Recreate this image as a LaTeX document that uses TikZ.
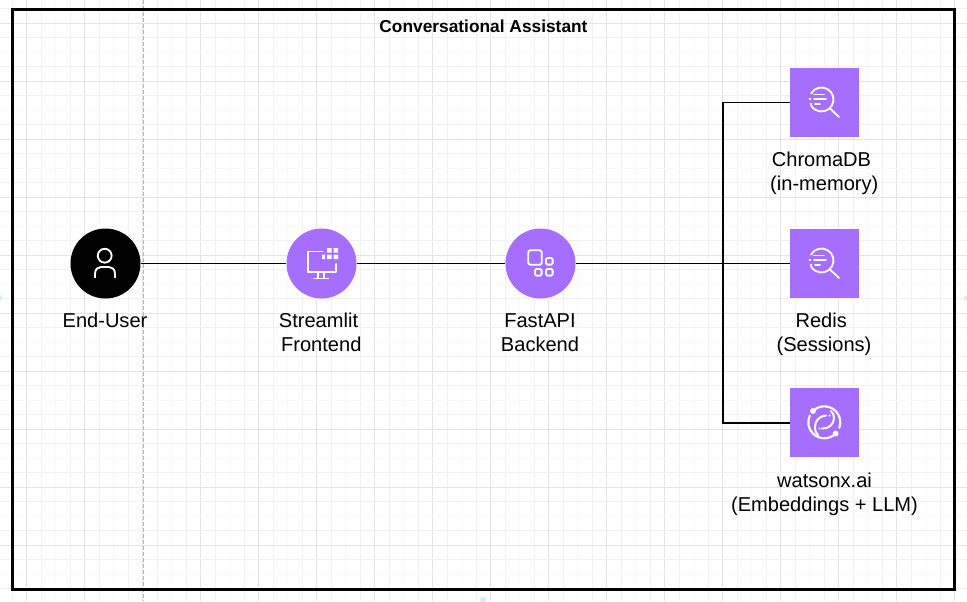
\documentclass[tikz,border=0pt]{standalone}
\usepackage{fontspec}
\setmainfont{Liberation Sans}
\definecolor{ibmpurple}{HTML}{A56EFF}
\definecolor{gridmajor}{HTML}{E4E4E4}
\definecolor{gridminor}{HTML}{F1F1F1}
\definecolor{gridfaint}{HTML}{F9F9F9}
\definecolor{dropblue}{HTML}{D8EEFB}
\tikzset{
  roundicon/.style={circle,fill=ibmpurple,minimum size=52.5pt,inner sep=0pt},
  squareicon/.style={rectangle,fill=ibmpurple,minimum size=52pt,inner sep=0pt},
  label text/.style={align=center,inner sep=0pt,font=\fontsize{15.05pt}{18pt}\selectfont},
  link/.style={draw=black,line width=1.2pt},
  glyph/.style={draw=white,line width=1.4pt,line cap=round,line join=round},
  glyphfill/.style={fill=white},
}
\newcommand{\lead}{\hspace*{0.278em}}
\begin{document}
\begin{tikzpicture}[x=0.75pt,y=-0.75pt]
\useasboundingbox (0,0) rectangle (967,601);
\fill[white] (0,0) rectangle (967,601);
% grid
\foreach \k in {0,...,70}{
  \pgfmathsetmacro{\px}{-31.5+14.5*\k}
  \pgfmathtruncatemacro{\m}{mod(\k,4)}
  \ifnum\m=0 \def\gc{gridmajor}\else\ifnum\m=2 \def\gc{gridfaint}\else\def\gc{gridminor}\fi\fi
  \draw[\gc,line width=0.75pt] (\px,0) -- (\px,601);
}
\foreach \k in {0,...,44}{
  \pgfmathsetmacro{\py}{-35+14.5*\k}
  \pgfmathtruncatemacro{\m}{mod(\k,4)}
  \ifnum\m=0 \def\gc{gridmajor}\else\ifnum\m=2 \def\gc{gridfaint}\else\def\gc{gridminor}\fi\fi
  \draw[\gc,line width=0.75pt] (0,\py) -- (967,\py);
}
% faint handles at page edges
\fill[dropblue] (0,298) circle[radius=2pt];
\fill[dropblue] (966,298) circle[radius=2pt];
\fill[dropblue] (483,600) circle[radius=2.5pt];
% dashed separator
\draw[black!28,line width=0.75pt,dash pattern=on 3pt off 1.5pt] (143,0) -- (143,601);
% frame
\draw[black,line width=2.25pt] (12.5,9.5) rectangle (954.7,589.3);
\node[inner sep=0pt,font=\bfseries\fontsize{13pt}{15pt}\selectfont] (title) at (483.5,26.5) {Conversational Assistant};
% nodes
\node[roundicon,fill=black] (user) at (105.5,263.5) {};
\node[roundicon] (front) at (321.5,263.5) {};
\node[roundicon] (back) at (540.5,263.5) {};
\node[squareicon] (chroma) at (824.5,102.5) {};
\node[squareicon] (redis) at (824.5,263.5) {};
\node[squareicon] (watson) at (824.5,422.7) {};
\coordinate (trunk) at (723,263.5);
% connectors
\draw[link] (user) -- (front);
\draw[link] (front) -- (back);
\draw[link] (back) -- (redis);
\draw[link] (trunk) |- (chroma);
\draw[link] (trunk) |- (watson);
% labels
\node[label text] (userl) at (105,320) {End-User};
\node[label text] (frontl) at (318.5,332) {Streamlit\\\lead Frontend};
\node[label text] (backl) at (540,332.5) {FastAPI\\Backend};
\node[label text] (chromal) at (821.5,173.5) {ChromaDB\\\lead(in-memory)};
\node[label text] (redisl) at (824,334) {Redis\hspace*{0.28em}\\(Sessions)};
\node[label text] (watsonl) at (824.5,494.5) {watsonx.ai\\(Embeddings + LLM)};
% user glyph
\draw[glyph] (104.7,255.7) circle[radius=5.2pt];
\draw[glyph] (95,277.5) -- (95,274) .. controls (95,269) and (98,267) .. (101,267) -- (109,267) .. controls (112,267) and (115,269) .. (115,274) -- (115,277.5);
% monitor glyph
\draw[glyph] (322.5,251.5) -- (308,251.5) -- (308,272) -- (336,272) -- (336,264);
\draw[glyph] (317.7,272) -- (317.7,278.5) (324,272) -- (324,278.5) (313.7,278.5) -- (328.5,278.5);
\fill[glyphfill] (327,248) rectangle (331.5,252.5) (333.5,248) rectangle (338,252.5) (327,254.5) rectangle (331.5,259) (333.5,254.5) rectangle (338,259) (322,254.5) rectangle (325,259);
% blocks glyph
\draw[glyph,rounded corners=1.2pt] (528.3,250.3) rectangle (541.7,264.7);
\draw[glyph,rounded corners=1pt] (546,258) rectangle (552.6,264.6);
\draw[glyph,rounded corners=1pt] (535,269) rectangle (541.6,275.6);
\draw[glyph,rounded corners=1pt] (546,269) rectangle (552.6,275.6);
% search glyphs
\foreach \dy/\nm in {0/chroma,161/redis}{
  \begin{scope}[yshift=-0.75pt*\dy]
  \draw[glyph] (811.1,93.5) arc[start angle=150,end angle=-150,radius=9pt];
  \draw[glyph] (830,108.5) -- (839,117);
  \draw[glyph] (814,94.5) -- (824,94.5) (809.5,99) -- (810.5,99) (814,99) -- (826,99) (810.5,104) -- (811.5,104) (815,104) -- (820,104);
  \end{scope}
}
% swirl glyph
\draw[glyph,line width=1.6pt] (813,411) arc[start angle=135,end angle=-20,radius=12pt];
\draw[glyph,line width=1.6pt] (835.6,433.6) arc[start angle=-45,end angle=-205,radius=12pt];
\fill[glyphfill] (813,411) circle[radius=2.2pt] (835.6,433.6) circle[radius=2.2pt];
\draw[glyph,line width=1.5pt] (826,415.5) .. controls (819,416) and (815,421) .. (815,427) .. controls (815,431) and (816,433) .. (818,435);
\draw[glyph,line width=1.5pt] (822,428.5) .. controls (829,429) and (834,424) .. (834,418) .. controls (834,415) and (833,413) .. (831,411);
\fill[glyphfill] (829.5,415.5) circle[radius=0.8pt] (819.5,428.5) circle[radius=0.8pt];
\end{tikzpicture}
\end{document}
